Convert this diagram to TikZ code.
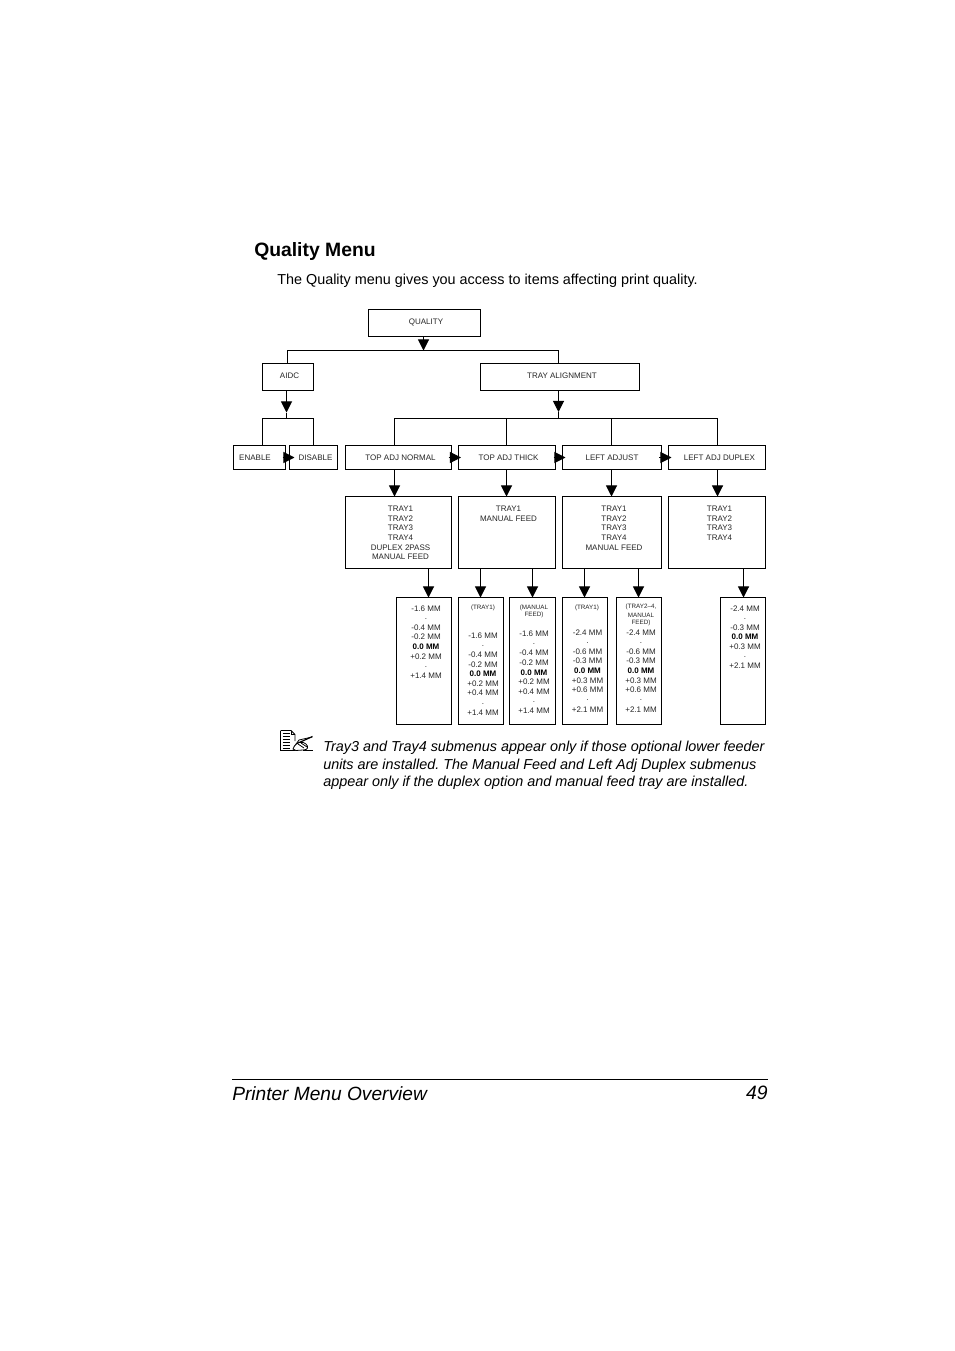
\documentclass[tikz,border=0pt]{standalone}
\usepackage{fontspec}
\setmainfont{Liberation Sans}
\frenchspacing
\usetikzlibrary{arrows.meta,calc}
\tikzset{
  bxs/.style={draw=black,line width=0.75pt,inner sep=0pt,outer sep=0pt},
  lbl/.style={font=\fontsize{6}{6}\selectfont,inner sep=0pt,text=black!85,yshift=-0.45pt},
  lblb/.style={font=\fontsize{6}{6}\selectfont\bfseries,inner sep=0pt,yshift=-0.45pt},
  lbls/.style={font=\fontsize{4.7}{4.7}\selectfont,inner sep=0pt,text=black!85,yshift=-0.45pt},
  conn/.style={draw=black,line width=0.75pt},
  arr/.style={conn,-{Triangle[length=8.4pt,width=8.4pt]}},
  body/.style={anchor=base west,inner sep=0pt,font=\fontsize{10.8}{10.8}\selectfont},
  note/.style={anchor=base west,inner sep=0pt,font=\fontsize{10.8}{10.8}\selectfont\itshape}
}
\newcommand{\bx}[5]{\node[bxs,minimum width={(#4-#2)*0.75pt},minimum height={(#5-#3)*0.75pt}] (#1) at ({(#2+#4)/2},{(#3+#5)/2}) {};}
\newcommand{\vals}[3]{\foreach \yy/\tt in {#3} {\node[#2] at (#1,\yy) {\tt};}}
\begin{document}
\begin{tikzpicture}[x=0.75pt,y=-0.75pt]
\useasboundingbox[fill=white] (0,0) rectangle (954,1351);
\node[anchor=base west,inner sep=0pt,font=\fontsize{14.5}{14.5}\selectfont\bfseries] (title) at (254,257) {Quality Menu};
\node[body] (intro) at (277,285) {The Quality menu gives you access to items affecting print quality.};
\bx{quality}{368.5}{309.5}{480.5}{336.5}
\bx{aidc}{262.5}{363.5}{313.5}{390.5}
\bx{tray}{480.5}{363.5}{639.5}{390.5}
\bx{enable}{233.5}{445.5}{285.5}{469.5}
\bx{disable}{289.5}{445.5}{337.5}{469.5}
\bx{tan}{345.5}{445.5}{451.5}{469.5}
\bx{tat}{458.5}{445.5}{555.5}{469.5}
\bx{la}{562.5}{445.5}{661.5}{469.5}
\bx{lad}{668.5}{445.5}{765.5}{469.5}
\bx{mtan}{345.5}{496.5}{451.5}{568.5}
\bx{mtat}{458.5}{496.5}{555.5}{568.5}
\bx{mla}{562.5}{496.5}{661.5}{568.5}
\bx{mlad}{668.5}{496.5}{765.5}{568.5}
\bx{va}{396.5}{597.5}{451.5}{724.5}
\bx{vb}{458.5}{597.5}{503.5}{724.5}
\bx{vc}{509.5}{597.5}{555.5}{724.5}
\bx{vd}{562.5}{597.5}{607.5}{724.5}
\bx{ve}{616.5}{597.5}{661.5}{724.5}
\bx{vf}{720.5}{597.5}{765.5}{724.5}
% top level
\coordinate (busq) at (423.5,350.5);
\coordinate (busl) at (287.5,350.5);
\coordinate (busr) at (558.5,350.5);
\draw[arr] (busq |- quality.south) -- (busq);
\draw[conn] (aidc.north -| busl) -- (busl) -- (busr) -- (tray.north -| busr);
% AIDC
\coordinate (aidcbus) at (286.5,418.5);
\coordinate (aidctip) at (286.5,412.5);
\draw[arr] (aidc.south -| aidcbus) -- (aidctip);
\draw[conn] (aidctip) -- (aidcbus);
\draw[conn] (enable.north -| aidc.west) -- (aidc.west |- aidcbus) -- (aidc.east |- aidcbus) -- (disable.north -| aidc.east);
% tray alignment
\coordinate (traybus) at (558.5,418.5);
\coordinate (traytip) at (558.5,412);
\coordinate (d1) at (394.5,418.5);
\coordinate (d2) at (506.5,418.5);
\coordinate (d3) at (611.5,418.5);
\coordinate (d4) at (717.5,418.5);
\draw[arr] (tray.south -| traybus) -- (traytip);
\draw[conn] (traytip) -- (traybus);
\draw[conn] (tan.north -| d1) -- (d1) -- (d4) -- (lad.north -| d4);
\draw[conn] (d2) -- (tat.north -| d2);
\draw[conn] (d3) -- (la.north -| d3);
% side arrows
\draw[arr] ($(enable.east)+(-3,0)$) -- ($(disable.west)+(5,0)$);
\draw[arr] ($(tan.east)+(-3,0)$) -- ($(tat.west)+(2.5,0)$);
\draw[arr] ($(tat.east)+(-2,0)$) -- ($(la.west)+(3,0)$);
\draw[arr] ($(la.east)+(-2.5,0)$) -- ($(lad.west)+(3,0)$);
% down arrows
\foreach \a/\b/\xx in {tan/mtan/394.5,tat/mtat/506.5,la/mla/611.5,lad/mlad/717.5} {
  \coordinate (c\a) at (\xx,0);
  \draw[arr] (\a.south -| c\a) -- (\b.north -| c\a);
}
\foreach \a/\b/\xx in {mtan/va/428.5,mtat/vb/480.5,mtat/vc/532.5,mla/vd/584.5,mla/ve/638.5,mlad/vf/743.5} {
  \coordinate (e\b) at (\xx,0);
  \draw[arr] (\a.south -| e\b) -- (\b.north -| e\b);
}
% labels
\node[lbl] (lq) at (426,321.5) {QUALITY};
\node[lbl] (la1) at (289.5,375.5) {AIDC};
\node[lbl] (lt) at (562,375.5) {TRAY ALIGNMENT};
\node[lbl] (le) at (255,457.5) {ENABLE};
\node[lbl] (ld) at (315.5,457.5) {DISABLE};
\node[lbl] (l1) at (400.5,457.5) {TOP ADJ NORMAL};
\node[lbl] (l2) at (508.5,457.5) {TOP ADJ THICK};
\node[lbl] (l3) at (612,457.5) {LEFT ADJUST};
\node[lbl] (l4) at (719.5,457.5) {LEFT ADJ DUPLEX};
\vals{400.5}{lbl}{508/TRAY1,518/TRAY2,527/TRAY3,537/TRAY4,547/DUPLEX 2PASS,556.5/MANUAL FEED}
\vals{508.5}{lbl}{508/TRAY1,518/MANUAL FEED}
\vals{614}{lbl}{508/TRAY1,518/TRAY2,527/TRAY3,537/TRAY4,547/MANUAL FEED}
\vals{719.5}{lbl}{508/TRAY1,518/TRAY2,527/TRAY3,537/TRAY4}
% values
\vals{426}{lbl}{608/-1.6 MM,618/.,627.5/-0.4 MM,636.5/-0.2 MM,656.5/+0.2 MM,666/.,675.5/+1.4 MM}
\node[lblb] at (426,646.5) {0.0 MM};
\vals{483}{lbl}{635.5/-1.6 MM,645/.,654.5/-0.4 MM,664.5/-0.2 MM,683.5/+0.2 MM,692.5/+0.4 MM,703/.,712.5/+1.4 MM}
\node[lblb] at (483,673.5) {0.0 MM};
\node[lbls] at (483,607) {(TRAY1)};
\vals{534}{lbl}{633/-1.6 MM,643/.,652.5/-0.4 MM,662/-0.2 MM,681.5/+0.2 MM,691/+0.4 MM,701/.,710.5/+1.4 MM}
\node[lblb] at (534,672.5) {0.0 MM};
\vals{534}{lbls}{607/(MANUAL,614.5/FEED)}
\vals{587.5}{lbl}{632/-2.4 MM,642/.,651/-0.6 MM,660.5/-0.3 MM,680/+0.3 MM,689/+0.6 MM,699/.,709/+2.1 MM}
\node[lblb] at (587.5,670) {0.0 MM};
\node[lbls] at (587,607) {(TRAY1)};
\vals{641}{lbl}{632/-2.4 MM,642/.,651/-0.6 MM,660.5/-0.3 MM,680/+0.3 MM,689/+0.6 MM,699/.,709/+2.1 MM}
\node[lblb] at (641,670) {0.0 MM};
\vals{641}{lbls}{606.5/{(TRAY2–4,},614.5/MANUAL,622.5/FEED)}
\vals{745}{lbl}{608/-2.4 MM,618/.,627.5/-0.3 MM,646.5/+0.3 MM,656/.,665.5/+2.1 MM}
\node[lblb] at (745,636.5) {0.0 MM};
% note icon
\begin{scope}[line width=0.6pt]
\draw (280.5,730.5) -- (291,730.5) -- (295,734.5) -- (295,741);
\draw (280.5,730.5) -- (280.5,750.5) -- (296,750.5);
\draw (291,730.5) -- (291,734.5) -- (295,734.5);
\foreach \yy in {733.5,736.5,739.5,742.5,745.5,748.5} \draw[line width=0.7pt] (282.5,\yy) -- (290,\yy);
\draw[line width=0.9pt] (296,744) -- (312.5,736.5);
\draw (294,747) -- (299,740) -- (312,737);
\draw[fill=white] (293,749) .. controls (296,741) and (303,741) .. (306,744) .. controls (309,747) and (308,750) .. (303,750) -- (296,750.5) -- cycle;
\draw (298,744) -- (304,748);
\draw (301,743) -- (307,747);
\draw (303,750) -- (312.5,750);
\end{scope}
\node[note] (n1) at (323,751) {Tray3 and Tray4 submenus appear only if those optional lower feeder};
\node[note] (n2) at (323,769) {units are installed. The Manual Feed and Left Adj Duplex submenus};
\node[note] (n3) at (323,786) {appear only if the duplex option and manual feed tray are installed.};
% footer
\coordinate (fl) at (232,1079.5);
\coordinate (fr) at (768,1079.5);
\draw[line width=0.75pt] (fl) -- (fr);
\node[anchor=base west,inner sep=0pt,font=\fontsize{14.35}{14.35}\selectfont\itshape] (ft) at (232,1100.5) {Printer Menu Overview};
\node[anchor=base east,inner sep=0pt,font=\fontsize{14.5}{14.5}\selectfont\itshape] (pg) at (768,1099) {49};
\end{tikzpicture}
\end{document}
